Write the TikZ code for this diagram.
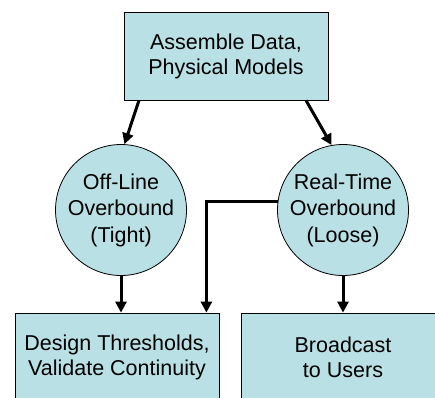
\documentclass[tikz,border=0pt]{standalone}
\usepackage{fontspec}
\setmainfont{Liberation Sans}
\usetikzlibrary{arrows.meta}
\definecolor{boxfill}{RGB}{185,224,228}

\begin{document}
\begin{tikzpicture}[x=1pt,y=-1pt,
        box/.style={draw,fill=boxfill,line width=0.8pt,minimum width=204pt,minimum height=88pt,
            inner sep=0pt,align=center,font=\fontsize{21.5}{25}\selectfont},
        bubble/.style={draw,fill=boxfill,circle,line width=0.8pt,minimum size=131pt,
            inner sep=0pt,align=center,font=\fontsize{21.5}{26.5}\selectfont},
        arr/.style={line width=3pt,-{Triangle[length=11pt,width=11pt]}}]
        \useasboundingbox (0,0) rectangle (435,397);
        \clip (0,0) rectangle (435,397);
        \fill[white] (0,0) rectangle (435,397);

        \node[box] (assemble) at (226,56) {Assemble Data,\\Physical Models};
        \node[bubble] (offline) at (121,210) {Off-Line\\Overbound\\(Tight)};
        \node[bubble] (realtime) at (343,210) {Real-Time\\Overbound\\(Loose)};
        \node[box] (design) at (117,357) {Design Thresholds,\\Validate Continuity};
        \node[box] (broadcast) at (343,357) {Broadcast\\to Users};

        \draw[arr] ([xshift=-87pt]assemble.south) -- (offline.87);
        \draw[arr] ([xshift=80pt]assemble.south) -- (realtime.100);
        \draw[arr] (offline.south) -- (offline.south |- design.north);
        \draw[arr] (realtime.south) -- (realtime.south |- broadcast.north);
        \draw[arr] (realtime.173) -| ([xshift=-13pt]design.north east);
    \end{tikzpicture}
\end{document}
